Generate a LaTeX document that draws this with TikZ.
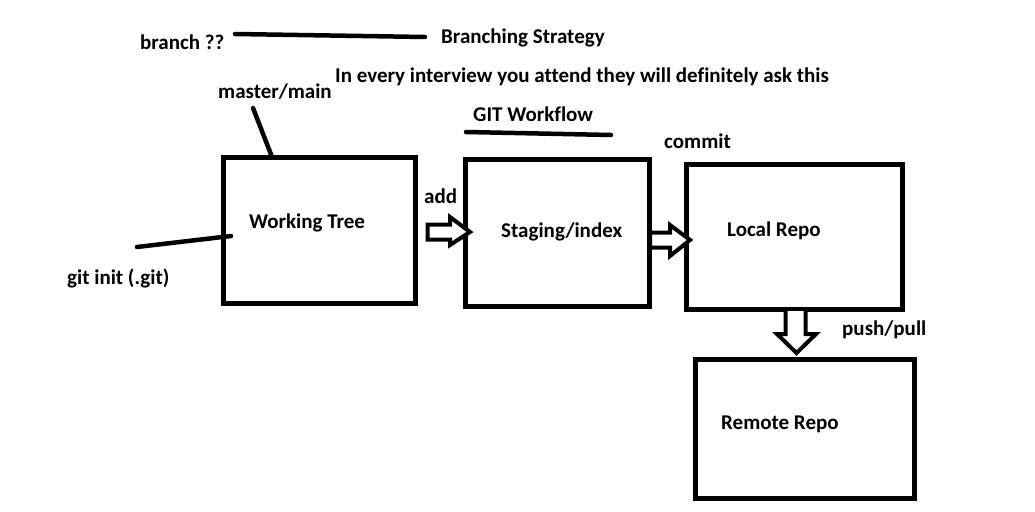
\documentclass[tikz,border=0pt]{standalone}
\usepackage{fontspec}
\setmainfont{Carlito}[Ligatures=NoCommon]
\begin{document}
\begin{tikzpicture}[x=1pt,y=-1pt,
  lbl/.style={anchor=base west,inner sep=0pt,font=\fontsize{21}{25}\selectfont\bfseries},
  stagebox/.style={draw,line width=5pt,rectangle,inner sep=0pt},
  stroke/.style={line width=4.5pt,line cap=round},
  blockarrow/.style={draw,line width=4pt,line join=miter,fill=white}]
\useasboundingbox[fill=white] (0,0) rectangle (1035,511);
% boxes
\node[stagebox,minimum width=192pt,minimum height=146pt] (wt) at (319.5,230.5) {};
\node[stagebox,minimum width=184pt,minimum height=147pt] (st) at (557.5,233) {};
\node[stagebox,minimum width=216.5pt,minimum height=145.5pt] (lr) at (794.25,236.75) {};
\node[stagebox,minimum width=219.5pt,minimum height=139pt] (rr) at (804.75,429) {};
% box texts
\node[lbl] (twt) at (249,228) {Working Tree};
\node[lbl] (tst) at (501,237) {Staging/index};
\node[lbl] (tlr) at (727,236) {Local Repo};
\node[lbl] (trr) at (721,429) {Remote Repo};
% other texts
\node[lbl] (tbr) at (140,49) {branch ??};
\node[lbl] (tbs) at (441,44) {Branching Strategy};
\node[lbl] (tiv) at (335,82) {In every interview you attend they will definitely ask this};
\node[lbl] (tmm) at (218,98) {master/main};
\node[lbl] (tgw) at (473,121) {GIT Workflow};
\node[lbl] (tgi) at (67,284) {git init (.git)};
\node[lbl] (tadd) at (424,203) {add};
\node[lbl] (tcm) at (664,148) {commit};
\node[lbl] (tpp) at (842,335) {push/pull};
% free lines
\coordinate (b1) at (235,34);
\coordinate (b2) at (425,37);
\draw[stroke] (b1) -- (b2);
\coordinate (m1) at (253,108);
\coordinate (m2) at (272,157);
\draw[stroke] (m1) -- (m2);
\coordinate (g1) at (137,247);
\coordinate (g2) at (231,236);
\draw[stroke] (g1) -- (g2);
\coordinate (u1) at (466,132);
\coordinate (u2) at (611,135);
\draw[stroke] (u1) -- (u2);
% block arrows
\draw[blockarrow] (427.5,224.5) -- (450,224.5) -- (450,217) -- (470,232) -- (450,245) -- (450,239.5) -- (427.5,239.5) -- cycle;
\draw[blockarrow] (650,232.5) -- (670,232.5) -- (670,225) -- (690,240) -- (670,256) -- (670,247.5) -- (650,247.5) -- cycle;
\draw[blockarrow] (785.5,311) -- (785.5,334) -- (777,334) -- (796.5,353) -- (816,334) -- (805.5,334) -- (805.5,311);
\end{tikzpicture}
\end{document}
